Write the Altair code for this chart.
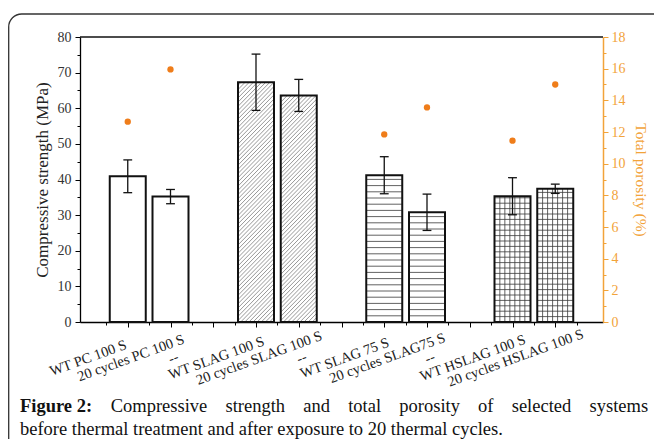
import json
import altair as alt
import pandas as pd

# ---------------- data ----------------
categories = ["WT PC 100 S", "20 cycles PC 100 S", "--",
              "WT SLAG 100 S", "20 cycles SLAG 100 S", "--",
              "WT SLAG 75 S", "20 cycles SLAG75 S", "--",
              "WT HSLAG 100 S", "20 cycles HSLAG 100 S"]
samples = ["WT PC 100 S", "20 cycles PC 100 S",
           "WT SLAG 100 S", "20 cycles SLAG 100 S",
           "WT SLAG 75 S", "20 cycles SLAG75 S",
           "WT HSLAG 100 S", "20 cycles HSLAG 100 S"]
strength = [40.9, 35.2, 67.3, 63.6, 41.2, 30.8, 35.3, 37.4]
strength_err = [4.6, 2.0, 7.9, 4.5, 5.2, 5.1, 5.2, 1.3]
porosity = [12.65, 15.95, None, None, 11.85, 13.55, 11.45, 15.0]

y_ticks = list(range(0, 81, 5))
y2_ticks = list(range(0, 19, 1))

caption_line1 = ["Figure 2:", "Compressive", "strength", "and", "total",
                 "porosity", "of", "selected", "systems"]
caption_line2 = "before thermal treatment and after exposure to 20 thermal cycles."

# ---------------- styles ----------------
HATCH = {"WT PC 100 S": "none", "20 cycles PC 100 S": "none",
         "WT SLAG 100 S": "diag", "20 cycles SLAG 100 S": "diag",
         "WT SLAG 75 S": "hline", "20 cycles SLAG75 S": "hline",
         "WT HSLAG 100 S": "grid", "20 cycles HSLAG 100 S": "grid"}
W, H = 523, 285
X_DOMAIN = [0, len(categories) + 1]
PX_X = W / X_DOMAIN[1]
PX_Y = H / 80
BAR_PX = 36
SERIF = "Liberation Serif"
ORANGE_AX = "#F2A33A"
ORANGE_PT = "#EF7D1A"
CAP_FS = 18.5

pos_of = {}
for i, c in enumerate(categories):
    if c != "--":
        pos_of[c] = i + 1

df = pd.DataFrame({
    "sample": samples,
    "pos": [pos_of[s] for s in samples],
    "strength": strength,
    "err": strength_err,
    "porosity": porosity,
})
df["lo"] = df["strength"] - df["err"]
df["hi"] = df["strength"] + df["err"]
cap = 4.5 / PX_X
df["cl"] = df["pos"] - cap
df["cr"] = df["pos"] + cap

# hatch line segments derived from the bars
hw = BAR_PX / 2 / PX_X
rows = []
for s, p, v in zip(samples, df["pos"], strength):
    kind = HATCH[s]
    x0, x1 = p - hw, p + hw
    if kind in ("hline", "grid"):
        step = (6.2 if kind == "hline" else 5.4) / PX_Y
        yy = step
        while yy < v - 0.3:
            rows.append(dict(x=x0, x2=x1, y=yy, y2=yy, c="#3a3a3a", w=0.8))
            yy += step
    if kind == "grid":
        stepx = 5.1 / PX_X
        xx = x0 + stepx
        while xx < x1 - 0.01:
            rows.append(dict(x=xx, x2=xx, y=0, y2=v, c="#3a3a3a", w=0.8))
            xx += stepx
    if kind == "diag":
        Hp = v * PX_Y
        s_px = 4.2
        c = -BAR_PX + s_px
        while c < Hp:
            u0 = max(0.0, -c)
            u1 = min(float(BAR_PX), Hp - c)
            if u1 > u0:
                rows.append(dict(x=x0 + u0 / PX_X, x2=x0 + u1 / PX_X,
                                 y=(u0 + c) / PX_Y, y2=(u1 + c) / PX_Y,
                                 c="#8c8c8c", w=0.9))
            c += s_px
hatch_df = pd.DataFrame(rows)

# ---------------- encodings ----------------
label_arr = json.dumps([""] + categories + [""])
x_axis = alt.Axis(
    values=[0.5 * k for k in range(1, 2 * len(categories) + 2)],
    labelExpr=f"datum.value % 1 === 0 ? {label_arr}[datum.value] : ''",
    tickSize={"condition": {"test": "datum.value % 1 === 0", "value": 5}, "value": 3},
    tickColor="black", domainColor="black", domainWidth=1.3, tickWidth=1,
    labelAngle=340, labelAlign="center", labelBaseline="middle",
    labelOffset=-40, labelPadding=31, labelOverlap=False, labelFlush=False,
    labelFont=SERIF, labelFontSize=14.5, labelColor="#222", grid=False,
)
X = lambda f: alt.X(f, type="quantitative", title=None,
                    scale=alt.Scale(domain=X_DOMAIN, nice=False, zero=False),
                    axis=x_axis)

y_axis = alt.Axis(
    values=y_ticks,
    labelExpr="datum.value % 10 === 0 ? datum.label : ''",
    tickSize={"condition": {"test": "datum.value % 10 === 0", "value": 5}, "value": 3},
    tickColor="black", domainColor="black", domainWidth=1.3,
    labelFont=SERIF, labelFontSize=14, labelColor="#333", labelPadding=4,
    titleFont=SERIF, titleFontSize=17, titleFontWeight="normal", titleColor="#222",
    titlePadding=6, grid=False,
)
Y = lambda f: alt.Y(f, type="quantitative", title="Compressive strength (MPa)",
                    scale=alt.Scale(domain=[0, 80], nice=False), axis=y_axis)

base = alt.Chart(df)

bars_fill = base.mark_bar(size=BAR_PX, fill="white", stroke="white",
                          strokeWidth=0).encode(x=X("pos"), y=Y("strength"))
hatch = alt.Chart(hatch_df).mark_rule(clip=True).encode(
    x=X("x"), x2="x2", y=Y("y"), y2="y2",
    color=alt.Color("c:N", scale=None),
    strokeWidth=alt.StrokeWidth("w:Q", scale=None),
)
bars_line = base.mark_bar(size=BAR_PX, fillOpacity=0, stroke="#111",
                          strokeWidth=2).encode(x=X("pos"), y=Y("strength"))
err = base.mark_rule(color="#111", strokeWidth=1.3).encode(
    x=X("pos"), y=Y("lo"), y2="hi")
cap_lo = base.mark_rule(color="#111", strokeWidth=1.3).encode(
    x=X("cl"), x2="cr", y=Y("lo"))
cap_hi = base.mark_rule(color="#111", strokeWidth=1.3).encode(
    x=X("cl"), x2="cr", y=Y("hi"))
top_line = alt.Chart(pd.DataFrame({"a": [0]})).mark_rule(
    color="#111", strokeWidth=1.3).encode(
    x=alt.value(0), x2=alt.value(W), y=alt.value(0))

left = alt.layer(bars_fill, hatch, bars_line, err, cap_lo, cap_hi, top_line)

y2_axis = alt.Axis(
    orient="right", values=y2_ticks,
    labelExpr="datum.value % 2 === 0 ? datum.label : ''",
    tickSize={"condition": {"test": "datum.value % 2 === 0", "value": 5}, "value": 3},
    tickColor=ORANGE_AX, domainColor=ORANGE_AX, domainWidth=1.5,
    labelFont=SERIF, labelFontSize=14, labelColor=ORANGE_AX, labelPadding=3,
    titleFont=SERIF, titleFontSize=15.5, titleFontWeight="normal",
    titleColor=ORANGE_AX, titlePadding=7, grid=False,
)
points = alt.Chart(df).transform_filter("datum.porosity != null").mark_circle(
    size=40, color=ORANGE_PT, opacity=1).encode(
    x=X("pos"),
    y=alt.Y("porosity:Q", title="Total porosity (%)",
            scale=alt.Scale(domain=[0, 18], nice=False), axis=y2_axis),
)

plot = alt.layer(left, points).resolve_scale(y="independent")

# frame and caption
one = pd.DataFrame({"a": [0]})
frame = alt.Chart(one).mark_rect(fillOpacity=0, stroke="#333", strokeWidth=1.3,
                                 cornerRadius=13).encode(
    x=alt.value(-71.3), x2=alt.value(620), y=alt.value(-23), y2=alt.value(440))

word_x = [20, 110.7, 225.5, 303.3, 348.2, 399.3, 478.1, 511.7, 589.5]
cap_layers = []
for wtxt, wx in zip(caption_line1, word_x):
    cap_layers.append(alt.Chart(one).mark_text(
        text=wtxt, align="left", baseline="alphabetic", font=SERIF, fontSize=CAP_FS,
        fontWeight="bold" if wtxt.startswith("Figure") else "normal",
        color="#111").encode(x=alt.value(wx - 80), y=alt.value(412 - 37)))
cap_layers.append(alt.Chart(one).mark_text(
    text=caption_line2, align="left", baseline="alphabetic", font=SERIF,
    fontSize=CAP_FS, color="#111").encode(x=alt.value(20 - 80), y=alt.value(434.5 - 37)))

chart = alt.layer(frame, plot, *cap_layers).properties(
    width=W, height=H,
    autosize=alt.AutoSizeParams(type="none"),
    padding={"left": 72, "top": 29, "right": 51, "bottom": 117},
).configure_view(strokeWidth=0)

chart.save("out.html", embed_options={"renderer": "svg", "actions": False})
